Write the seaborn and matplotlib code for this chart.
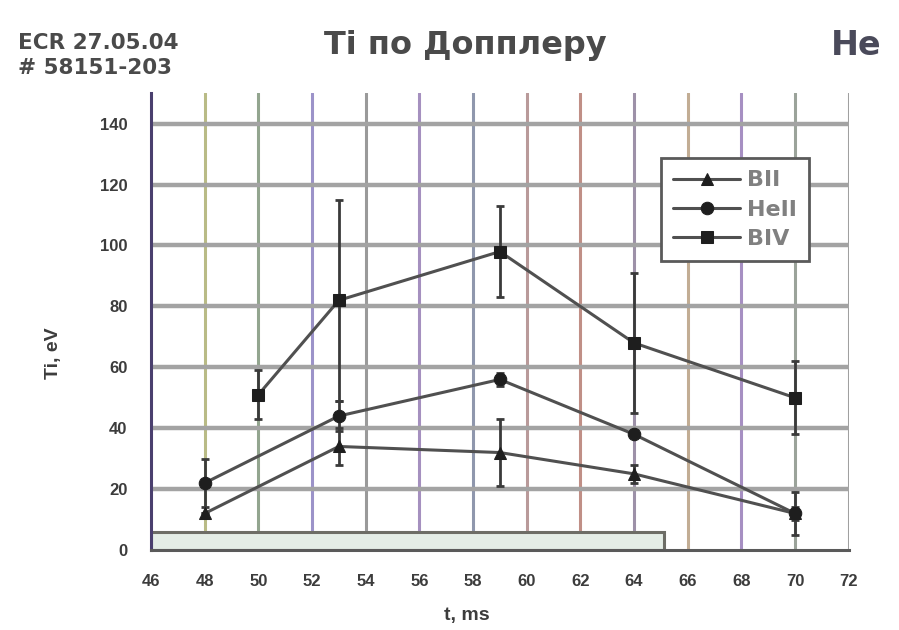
import matplotlib
matplotlib.use("Agg")
import matplotlib.pyplot as plt
import seaborn as sns
import numpy as np
import pandas as pd
from matplotlib.patches import Rectangle
from matplotlib.ticker import MultipleLocator

# ---- data ----
x_bii = [48, 53, 59, 64, 70]
y_bii = [12, 34, 32, 25, 12]
e_bii = [0, 6, 11, 3, 7]

x_heii = [48, 53, 59, 64, 70]
y_heii = [22, 44, 56, 38, 12]
e_heii = [8, 5, 2, 0, 2]

x_biv = [50, 53, 59, 64, 70]
y_biv = [51, 82, 98, 68, 50]
e_biv = [8, 33, 15, 23, 12]

series_names = ["BII", "HeII", "BIV"]
markers = {"BII": "^", "HeII": "o", "BIV": "s"}

pulse_start, pulse_end, pulse_height = 46, 65.1, 6

x_ticks = list(range(46, 73, 2))
y_ticks = list(range(0, 141, 20))

title = "Ti по Допплеру"
note1 = "ECR 27.05.04"
note2 = "# 58151-203"
corner = "He"
xlabel = "t, ms"
ylabel = "Ti, eV"

df = pd.concat([
    pd.DataFrame({"t": x_bii, "Ti": y_bii, "err": e_bii, "line": "BII"}),
    pd.DataFrame({"t": x_heii, "Ti": y_heii, "err": e_heii, "line": "HeII"}),
    pd.DataFrame({"t": x_biv, "Ti": y_biv, "err": e_biv, "line": "BIV"}),
])

# ---- style ----
sns.set_style("white")
plt.rcParams["font.family"] = ["Liberation Sans", "DejaVu Sans"]
plt.rcParams["font.weight"] = "bold"
txt = "#3c3c3c"
wide = ["DejaVu Sans"]

fig = plt.figure(figsize=(8.99, 6.30), dpi=100)
ax = fig.add_axes([0.168, 0.127, 0.776, 0.725])

ax.set_xlim(46, 72)
ax.set_ylim(0, 150)

# grid
vcols = ["#4a3f6e", "#b9bb86", "#93a58f", "#9c93c9", "#9a9a9a", "#a590bf",
         "#8f97ad", "#b99a9a", "#c08f86", "#9d91a8", "#c2ad94", "#a68fc2",
         "#9ba39a", "#a0a0a0"]
for xv, c in zip(x_ticks, vcols):
    if xv in (46,):
        continue
    ax.axvline(xv, color=c, lw=2.2, zorder=0)
for yv in y_ticks[1:]:
    ax.axhline(yv, color="#a3a3a3", lw=3.2, zorder=0.5)

# pulse bar
ax.add_patch(Rectangle((pulse_start, 0), pulse_end - pulse_start, pulse_height,
                       facecolor="#e4ede6", edgecolor="#6d6d66", lw=2.2, zorder=1))

# error bars
for name, sub in df.groupby("line", sort=False):
    ax.errorbar(sub["t"], sub["Ti"], yerr=sub["err"], fmt="none",
                ecolor="#3a3a3a", elinewidth=2, capsize=3, capthick=2, zorder=2)

sns.lineplot(data=df, x="t", y="Ti", hue="line", style="line",
             hue_order=series_names, style_order=series_names,
             markers=markers, dashes=False,
             palette=["#505050"] * 3, markersize=9, linewidth=2.2,
             markeredgecolor="#1e1e1e", markerfacecolor="#1e1e1e",
             ax=ax, zorder=3, legend=True)

# legend
h, l = ax.get_legend_handles_labels()
for hh in h:
    hh.set_markerfacecolor("#1e1e1e")
    hh.set_markeredgecolor("#1e1e1e")
leg = ax.legend(h, l, loc="upper left", bbox_to_anchor=(0.731, 0.858),
                frameon=True, fancybox=False, handlelength=3.0,
                prop={"family": wide, "weight": "bold", "size": 16},
                handletextpad=0.3, labelspacing=0.42, borderpad=0.55,
                borderaxespad=0, labelcolor="#808080")
leg.get_frame().set_edgecolor("#5a5a5a")
leg.get_frame().set_linewidth(2)
leg.get_frame().set_alpha(1)
leg.set_zorder(5)

# spines and ticks
for s in ["top", "right"]:
    ax.spines[s].set_visible(False)
ax.spines["left"].set_color("#4a3f6e")
ax.spines["left"].set_linewidth(2.2)
ax.spines["bottom"].set_color("#5a5a5a")
ax.spines["bottom"].set_linewidth(2.2)
ax.set_xticks(x_ticks)
ax.set_yticks(y_ticks)
ax.xaxis.set_minor_locator(MultipleLocator(1))
ax.yaxis.set_minor_locator(MultipleLocator(5))
ax.tick_params(axis="both", which="major", direction="out", length=5, width=2,
               color="#4a4a4a", labelsize=12, labelcolor=txt)
ax.tick_params(axis="both", which="minor", direction="out", length=3, width=2,
               color="#4a4a4a")
ax.tick_params(axis="y", pad=12)
ax.tick_params(axis="x", pad=12)
for lab in ax.get_xticklabels() + ax.get_yticklabels():
    lab.set_fontweight("bold")

ax.set_xlabel(xlabel, fontsize=14, color=txt, fontweight="bold")
ax.set_ylabel(ylabel, fontsize=14, color=txt, fontweight="bold")
ax.xaxis.set_label_coords(0.453, -0.125)
ax.yaxis.set_label_coords(-0.128, 0.43)

# texts
fig.text(0.518, 0.928, title, ha="center", va="center", fontsize=23,
         fontweight="bold", color="#4a4a4a", family=wide)
fig.text(0.02, 0.932, note1, ha="left", va="center", fontsize=15.5,
         fontweight="bold", color="#4a4a4a", family=wide)
fig.text(0.02, 0.892, note2, ha="left", va="center", fontsize=15.5,
         fontweight="bold", color="#4a4a4a", family=wide)
fig.text(0.952, 0.928, corner, ha="center", va="center", fontsize=24,
         fontweight="bold", color="#4a4a5a", family=wide)

fig.savefig("out.png", dpi=100)
